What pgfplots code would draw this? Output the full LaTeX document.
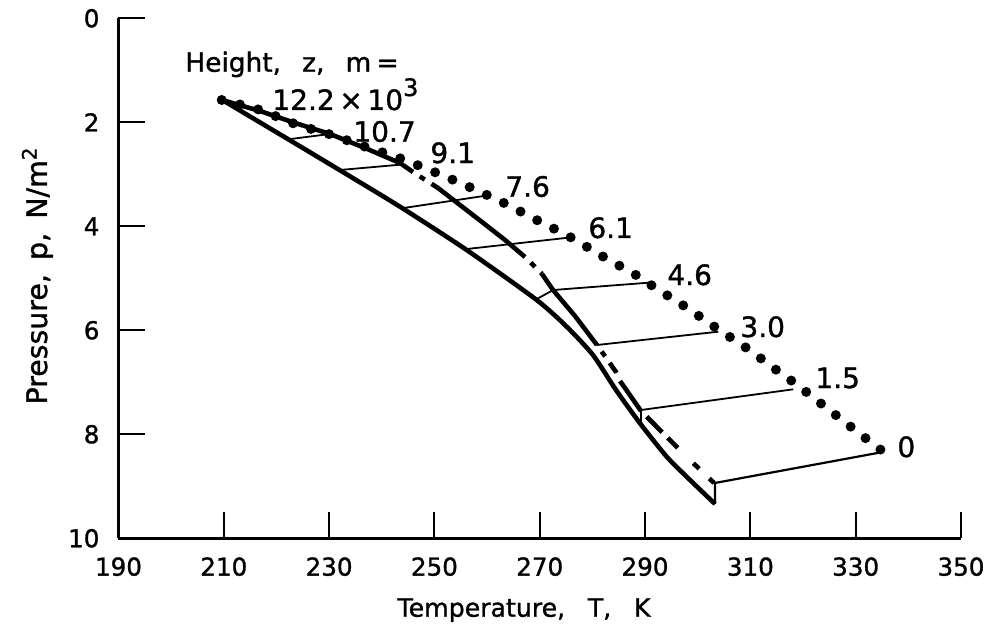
\documentclass[border=0pt]{standalone}
\usepackage{fontspec}
\setmainfont{DejaVu Sans}[FakeBold=1.2]
\usepackage{pgfplots}
\pgfplotsset{compat=1.18}
\begin{document}
\begin{tikzpicture}
\useasboundingbox (-59.25pt,-48.85pt) rectangle (437.25pt,269.15pt);
\begin{axis}[
  scale only axis, width=421.25pt, height=260pt,
  at={(0pt,0pt)}, anchor=south west,
  xmin=190, xmax=350, ymin=0, ymax=10, y dir=reverse,
  axis x line*=bottom, axis y line*=left,
  axis line style={-, line width=1.5pt},
  tick align=inside, major tick length=13pt,
  every tick/.style={black, line width=1pt},
  xtick={190,210,...,350}, ytick={0,2,...,10},
  /pgf/number format/assume math mode=true,
  tick label style={font=\fontsize{12.3}{14}\selectfont},
  xticklabel style={yshift=-6pt},
  yticklabel style={xshift=-6pt},
  clip=false,
]
% dotted curve C
\addplot[black, line width=5pt, line cap=round, dash pattern=on 0pt off 9.4pt, smooth] coordinates {
(209.60,1.571)(216.87,1.763)(223.52,2.033)(230.49,2.244)(236.81,2.469)(243.46,2.692)(250.30,2.969)(256.76,3.250)(263.08,3.546)(269.42,3.879)(275.88,4.212)(282.07,4.585)(288.28,4.937)(292.08,5.192)(297.91,5.565)(303.91,5.981)(309.61,6.365)(315.63,6.815)(318.67,7.033)(324.18,7.469)(329.69,7.904)(335.24,8.335)};
% curve A (solid)
\addplot[black, line width=2.3pt, smooth, tension=0.4] coordinates {
(209.09,1.533)(222.25,2.327)(231.44,2.885)(243.46,3.623)(256.13,4.456)(269.42,5.417)(275.12,5.931)(280.11,6.475)(284.48,7.148)(289.04,7.788)(294.11,8.431)(298.54,8.879)(303.29,9.340)};
% curve B: solid pieces
\addplot[black, line width=2.3pt] coordinates {(209.66,1.571)(216.87,1.783)(223.52,2.013)(230.17,2.225)(236.81,2.494)(243.46,2.783)(245.93,2.956)};
\addplot[black, line width=2.3pt] coordinates {(250.68,3.263)(254.85,3.590)(259.03,3.917)(263.40,4.263)(267.20,4.590)};
\addplot[black, line width=2.3pt] coordinates {(270.43,4.917)(272.52,5.225)(276.69,5.725)(280.87,6.283)};
\addplot[black, line width=2.3pt] coordinates {(285.24,6.975)(286.19,7.110)(289.23,7.552)};
% curve B: dash-dot pieces
\addplot[black, line width=2.3pt, dash pattern=on 0pt off 4pt on 3pt off 4pt on 6pt off 4pt] coordinates {(245.93,2.956)(250.68,3.263)};
\addplot[black, line width=2.3pt, dash pattern=on 0pt off 4pt on 3pt off 4pt on 6pt off 4pt] coordinates {(267.20,4.590)(268.72,4.744)(270.43,4.917)};
\addplot[black, line width=2.3pt, dash pattern=on 0pt off 4pt on 3pt off 4pt on 6pt off 4pt] coordinates {(280.87,6.283)(282.77,6.552)(284.48,6.802)(285.24,6.975)};
\addplot[black, line width=2.3pt, dash pattern=on 0pt off 4pt on 11pt off 4pt on 3pt] coordinates {(289.23,7.552)(293.78,8.013)(298.53,8.494)(303.10,8.936)};
% thin height lines
\addplot[black, line width=0.9pt] coordinates {(222.25,2.327)(230.17,2.225)};
\addplot[black, line width=0.9pt] coordinates {(232.07,2.917)(243.84,2.812)};
\addplot[black, line width=0.9pt] coordinates {(243.78,3.654)(259.98,3.408)};
\addplot[black, line width=0.9pt] coordinates {(256.13,4.437)(275.75,4.215)};
\addplot[black, line width=0.9pt] coordinates {(269.10,5.417)(272.57,5.225)(290.62,5.085)};
\addplot[black, line width=0.9pt] coordinates {(280.82,6.283)(303.91,6.027)};
\addplot[black, line width=0.9pt] coordinates {(289.23,7.840)(289.23,7.533)(318.14,7.135)};
\addplot[black, line width=1.1pt] coordinates {(303.29,9.340)(303.29,8.936)(335.19,8.340)};
% labels
\node[anchor=base west, inner sep=0pt, font=\fontsize{13.2}{15}\selectfont] at (axis cs:202.63,1.027) {Height,\hspace{0.8em}z,\hspace{0.8em}m\hspace{0.2em}=};
\node[anchor=base west, inner sep=0pt, font=\fontsize{14}{16}\selectfont] at (axis cs:219.15,1.763) {12.2\,×\,10\raisebox{0.5em}{\fontsize{12}{14}\selectfont 3}};
\node[anchor=base west, inner sep=0pt, font=\fontsize{14}{16}\selectfont] at (axis cs:234.53,2.373) {10.7};
\node[anchor=base west, inner sep=0pt, font=\fontsize{14}{16}\selectfont] at (axis cs:249.16,2.783) {9.1};
\node[anchor=base west, inner sep=0pt, font=\fontsize{14}{16}\selectfont] at (axis cs:263.40,3.431) {7.6};
\node[anchor=base west, inner sep=0pt, font=\fontsize{14}{16}\selectfont] at (axis cs:279.16,4.225) {6.1};
\node[anchor=base west, inner sep=0pt, font=\fontsize{14}{16}\selectfont] at (axis cs:294.17,5.129) {4.6};
\node[anchor=base west, inner sep=0pt, font=\fontsize{14}{16}\selectfont] at (axis cs:308.04,6.129) {3.0};
\node[anchor=base west, inner sep=0pt, font=\fontsize{14}{16}\selectfont] at (axis cs:322.28,7.110) {1.5};
\node[anchor=base west, inner sep=0pt, font=\fontsize{14}{16}\selectfont] at (axis cs:337.85,8.437) {0};
\end{axis}
\node[anchor=base, inner sep=0pt, font=\fontsize{12.6}{15}\selectfont] at (202.75pt,-39.2pt) {Temperature,\hspace{0.9em}T,\hspace{0.9em}K};
\node[anchor=base, rotate=90, inner sep=0pt, font=\fontsize{14.2}{16}\selectfont] at (-35.75pt,131.4pt) {Pressure,\hspace{0.5em}p,\hspace{0.5em}N/m\textsuperscript{2}};
\end{tikzpicture}
\end{document}
